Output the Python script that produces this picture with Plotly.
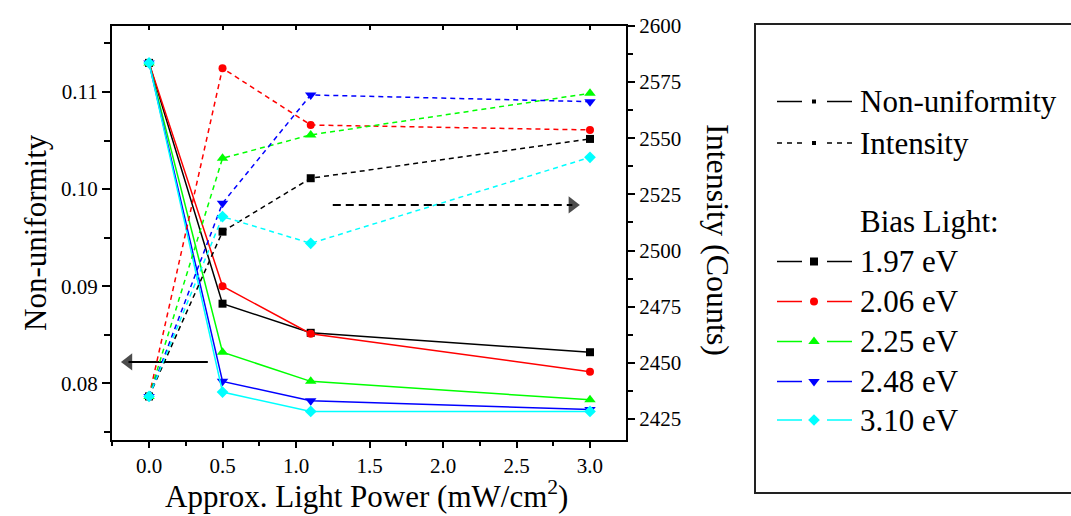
import plotly.graph_objects as go

# ---- data -------------------------------------------------------------
power = [0.0, 0.5, 1.1, 3.0]  # approx. light power (mW/cm^2)

bias_labels = ["1.97 eV", "2.06 eV", "2.25 eV", "2.48 eV", "3.10 eV"]
bias_colors = ["#000000", "#ff0000", "#00ff00", "#0000ff", "#00ffff"]
bias_symbols = ["square", "circle", "triangle-up", "triangle-down", "diamond"]
bias_sizes = [8, 8, 10, 10, 9]

nonuni_197 = [0.1130, 0.0882, 0.0852, 0.0832]
nonuni_206 = [0.1130, 0.0900, 0.0851, 0.0812]
nonuni_225 = [0.1130, 0.0832, 0.0802, 0.0783]
nonuni_248 = [0.1130, 0.0802, 0.0782, 0.0773]
nonuni_310 = [0.1130, 0.0791, 0.0771, 0.0771]

intensity_197 = [2435.0, 2508.4, 2532.2, 2549.7]
intensity_206 = [2435.0, 2581.2, 2555.9, 2553.7]
intensity_225 = [2435.0, 2541.1, 2551.5, 2570.0]
intensity_248 = [2435.0, 2521.1, 2569.3, 2566.3]
intensity_310 = [2435.0, 2515.1, 2503.2, 2541.5]

nonuni = [nonuni_197, nonuni_206, nonuni_225, nonuni_248, nonuni_310]
intensity = [intensity_197, intensity_206, intensity_225, intensity_248, intensity_310]

# axis pointers: which curves belong to which axis
arrow_left_x = [0.40, -0.14]
arrow_left_y = [0.0822, 0.0822]
arrow_right_x = [1.25, 2.88]
arrow_right_y = [2520.3, 2520.3]

x_ticks = [0.0, 0.5, 1.0, 1.5, 2.0, 2.5, 3.0]

# ---- layout helpers (figure pixels -> paper fractions) ----------------
W, H = 1071, 516
def fx(p):
    return p / W
def fy(p):
    return 1 - p / H

FONT = "Liberation Serif"

fig = go.Figure()

# intensity (dashed, right axis)
for lab, col, sym, sz, vals in zip(bias_labels, bias_colors, bias_symbols, bias_sizes, intensity):
    fig.add_trace(go.Scatter(
        x=power, y=vals, yaxis="y2", mode="lines+markers", showlegend=False,
        line=dict(color=col, width=1.5, dash="5px,4px"),
        marker=dict(symbol=sym, size=sz, color=col, line=dict(width=0)),
        name=lab + " intensity"))

# non-uniformity (solid, left axis)
for lab, col, sym, sz, vals in zip(bias_labels, bias_colors, bias_symbols, bias_sizes, nonuni):
    fig.add_trace(go.Scatter(
        x=power, y=vals, mode="lines+markers", showlegend=False,
        line=dict(color=col, width=1.5),
        marker=dict(symbol=sym, size=sz, color=col, line=dict(width=0)),
        name=lab + " non-uniformity"))

# arrows pointing to the matching axes
fig.add_trace(go.Scatter(
    x=arrow_left_x, y=arrow_left_y, mode="lines+markers", showlegend=False,
    line=dict(color="black", width=2),
    marker=dict(symbol=["line-ew", "triangle-left"], size=[0, 15], color="black",
                line=dict(width=0)),
    hoverinfo="skip"))
fig.add_trace(go.Scatter(
    x=arrow_right_x, y=arrow_right_y, yaxis="y2", mode="lines+markers", showlegend=False,
    line=dict(color="black", width=2, dash="8px,5px"),
    marker=dict(symbol=["line-ew", "triangle-right"], size=[0, 15], color="black",
                line=dict(width=0)),
    hoverinfo="skip"))

# placeholder trace so the top (inside-tick) axis is drawn
fig.add_trace(go.Scatter(x=[None], y=[None], xaxis="x2", showlegend=False,
                         hoverinfo="skip"))

# ---- legend drawn in its own pixel-space axis ---------------------------
LX0, LX1 = 777, 852      # sample line extent
MX = 814                 # marker position within the sample
TX = 858                 # text start

def legend_sample(y, color, dash, symbol, size):
    for seg in ([LX0, 802], [827, LX1]):
        fig.add_trace(go.Scatter(
            x=seg, y=[y, y], xaxis="x3", yaxis="y3", mode="lines",
            line=dict(color=color, width=1.5, dash=dash),
            showlegend=False, hoverinfo="skip"))
    fig.add_trace(go.Scatter(
        x=[MX], y=[y], xaxis="x3", yaxis="y3", mode="markers",
        marker=dict(symbol=symbol, size=size, color=color, line=dict(width=0)),
        showlegend=False, hoverinfo="skip"))

legend_sample(101.5, "black", "solid", "square", 4)
legend_sample(143, "black", "5px,5px", "square", 4)
legend_rows_y = [261.5, 301.5, 341.5, 381.5, 420]
for ly, col, sym, sz in zip(legend_rows_y, bias_colors, bias_symbols, bias_sizes):
    legend_sample(ly, col, "solid", sym, sz)

legend_texts = [("Non-uniformity", 101.5), ("Intensity", 143), ("Bias Light:", 221.5)]
legend_texts += list(zip(bias_labels, legend_rows_y))

annotations = []
for txt, ly in legend_texts:
    annotations.append(dict(
        x=TX, y=ly, xref="x3", yref="y3", text=txt, showarrow=False,
        xanchor="left", yanchor="middle",
        font=dict(family=FONT, size=31, color="black")))

# axis titles
annotations.append(dict(
    x=fx(366), y=fy(494), xref="paper", yref="paper",
    text="Approx. Light Power (mW/cm<sup>2</sup>)", showarrow=False,
    xanchor="center", yanchor="middle",
    font=dict(family=FONT, size=31, color="black")))
annotations.append(dict(
    x=fx(35), y=fy(233), xref="paper", yref="paper", text="Non-uniformity",
    textangle=-90, showarrow=False, xanchor="center", yanchor="middle",
    font=dict(family=FONT, size=31, color="black")))
annotations.append(dict(
    x=fx(718), y=fy(240), xref="paper", yref="paper", text="Intensity (Counts)",
    textangle=90, showarrow=False, xanchor="center", yanchor="middle",
    font=dict(family=FONT, size=32, color="black")))

shapes = [dict(type="rect", xref="paper", yref="paper",
               x0=fx(755), x1=fx(1085), y0=fy(24), y1=fy(493),
               line=dict(color="#222222", width=2), fillcolor="rgba(0,0,0,0)")]

x_dom = [fx(112), fx(626)]
y_dom = [fy(440), fy(26)]
tickfont = dict(family=FONT, size=21, color="black")

fig.update_layout(
    width=W, height=H, autosize=False,
    margin=dict(l=0, r=0, t=0, b=0, pad=0, autoexpand=False),
    paper_bgcolor="white", plot_bgcolor="white",
    showlegend=False,
    annotations=annotations, shapes=shapes,
    xaxis=dict(domain=x_dom, range=[-0.252, 3.245], anchor="y", automargin=False,
               tickvals=x_ticks, ticktext=[f"{v:.1f}" for v in x_ticks],
               ticks="outside", ticklen=6, tickwidth=1.5, tickcolor="black",
               minor=dict(tickvals=[-0.25, 0.25, 0.75, 1.25, 1.75, 2.25, 2.75, 3.25],
                          ticks="outside", ticklen=4, tickwidth=1.5, tickcolor="black"),
               showline=True, linecolor="black", linewidth=2,
               showgrid=False, zeroline=False, tickfont=tickfont),
    xaxis2=dict(overlaying="x", matches="x", side="top", anchor="y", automargin=False,
                range=[-0.252, 3.245], tickvals=x_ticks, showticklabels=False,
                ticks="inside", ticklen=4, tickwidth=1.5, tickcolor="black",
                showline=True, linecolor="black", linewidth=2,
                showgrid=False, zeroline=False),
    yaxis=dict(domain=y_dom, range=[0.07416, 0.1168], anchor="x", automargin=False,
               tickvals=[0.08, 0.09, 0.10, 0.11], tickformat=".2f",
               ticks="outside", ticklen=8, tickwidth=1.5, tickcolor="black",
               minor=dict(tickvals=[0.075, 0.085, 0.095, 0.105, 0.115],
                          ticks="outside", ticklen=6, tickwidth=1.5, tickcolor="black"),
               showline=True, linecolor="black", linewidth=2,
               showgrid=False, zeroline=False, tickfont=tickfont),
    yaxis2=dict(overlaying="y", side="right", anchor="x", automargin=False,
                range=[2415.6, 2600], tickvals=[2425, 2450, 2475, 2500, 2525, 2550, 2575, 2600],
                ticks="outside", ticklen=7, tickwidth=1.5, tickcolor="black",
                minor=dict(tickvals=[2437.5, 2462.5, 2487.5, 2512.5, 2537.5, 2562.5, 2587.5],
                           ticks="outside", ticklen=5, tickwidth=1.5, tickcolor="black"),
                showline=True, linecolor="black", linewidth=2,
                showgrid=False, zeroline=False, tickfont=tickfont),
    xaxis3=dict(domain=[fx(755), 1], range=[755, W], visible=False, anchor="y3",
                automargin=False),
    yaxis3=dict(domain=[0, 1], range=[H, 0], visible=False, anchor="x3",
                automargin=False),
)

fig.write_html("out.html")
